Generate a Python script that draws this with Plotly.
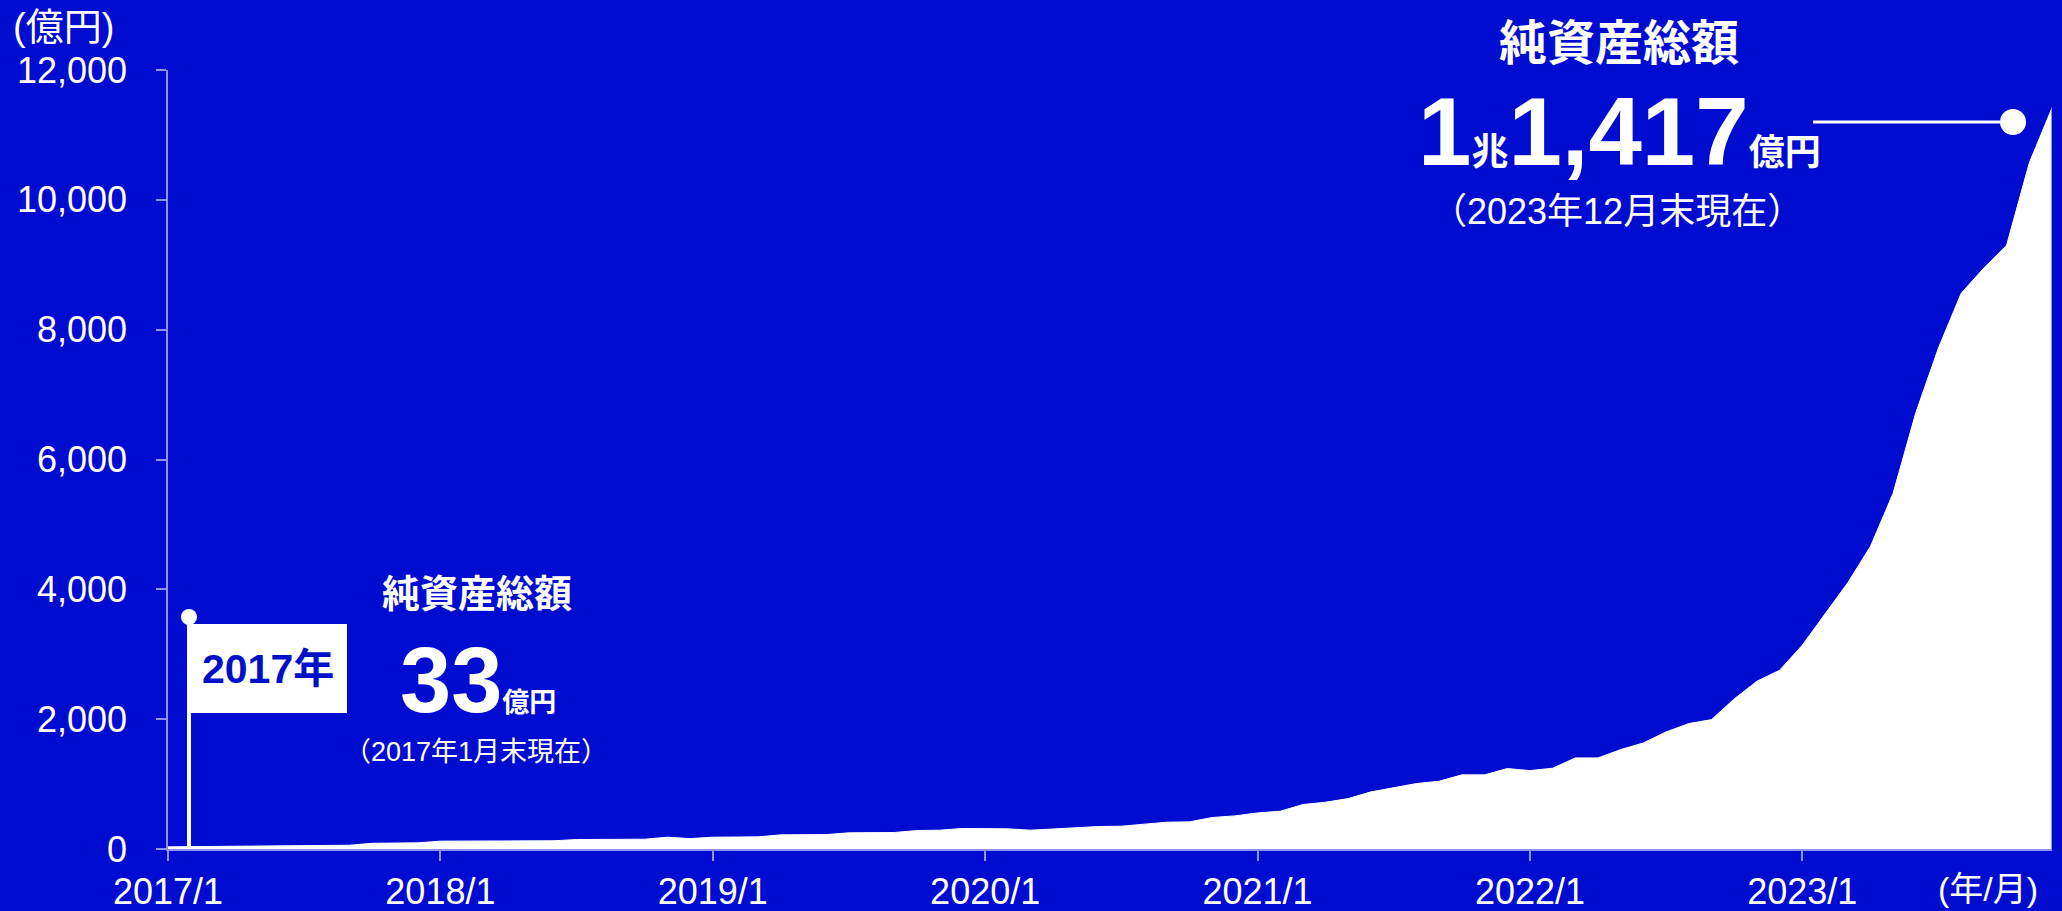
import plotly.graph_objects as go

# ---- data (億円, month-end net assets) ----
years = list(range(2017, 2024))
months = [f"{y}/{m}" for y in years for m in range(1, 13)]

nav_2017 = [33, 35, 37, 40, 42, 45, 48, 52, 58, 88, 92, 95]
nav_2018 = [121, 123, 124, 125, 126, 127, 146, 148, 150, 151, 182, 160]
nav_2019 = [182, 182, 187, 218, 218, 222, 249, 249, 254, 285, 290, 316]
nav_2020 = [316, 311, 290, 311, 321, 346, 351, 380, 413, 418, 485, 510]
nav_2021 = [556, 582, 685, 721, 777, 880, 942, 1008, 1044, 1142, 1142, 1239]
nav_2022 = [1208, 1244, 1403, 1403, 1532, 1634, 1804, 1932, 1993, 2312, 2584, 2753]
nav_2023 = [3140, 3620, 4100, 4660, 5480, 6720, 7720, 8560, 8950, 9300, 10570, 11417]
nav = nav_2017 + nav_2018 + nav_2019 + nav_2020 + nav_2021 + nav_2022 + nav_2023

x_tick_labels = [f"{y}/1" for y in years]
y_tick_values = [0, 2000, 4000, 6000, 8000, 10000, 12000]
y_tick_labels = ["0", "2,000", "4,000", "6,000", "8,000", "10,000", "12,000"]

# ---- style ----
W, H = 2062, 911
ML, MR, MT, MB = 168, 10, 70, 62
BG = "#000CD0"
LAV = "#8C94EE"
FONT = "Liberation Sans, Arial, Noto Sans CJK JP, sans-serif"
PW, PH = W - ML - MR, H - MT - MB


def px(x):
    return (x - ML) / PW


def py(y):
    return (H - MB - y) / PH


fig = go.Figure()
fig.add_trace(go.Scatter(
    x=months, y=nav, mode="lines", fill="tozeroy",
    fillcolor="white", line=dict(color="white", width=1),
    hoverinfo="skip", showlegend=False,
))

fig.update_layout(
    width=W, height=H,
    margin=dict(l=ML, r=MR, t=MT, b=MB, pad=0, autoexpand=False),
    paper_bgcolor=BG, plot_bgcolor=BG,
    font=dict(family=FONT, color="white"),
    showlegend=False,
    xaxis=dict(
        type="category", range=[0, len(months) - 1],
        tickmode="array", tickvals=x_tick_labels, ticktext=x_tick_labels,
        ticks="outside", ticklen=10, tickwidth=1.5, tickcolor=LAV,
        showline=True, linecolor=LAV, linewidth=2,
        showgrid=False, zeroline=False, automargin=False,
        tickfont=dict(size=36, color="white", family=FONT),
        ticklabelstandoff=0,
        fixedrange=True,
    ),
    yaxis=dict(
        range=[0, 12000],
        tickmode="array", tickvals=y_tick_values, ticktext=y_tick_labels,
        ticks="outside", ticklen=10, tickwidth=1.5, tickcolor=LAV,
        showline=True, linecolor=LAV, linewidth=1.5,
        showgrid=False, zeroline=False, automargin=False,
        tickfont=dict(size=36, color="white", family=FONT),
        ticklabelstandoff=22,
        fixedrange=True,
    ),
)

# right edge outline of the area
fig.add_shape(type="line", xref="x", yref="y",
              x0=months[-1], x1=months[-1], y0=0, y1=nav[-1],
              line=dict(color=LAV, width=2))

# ---- flag (2017) ----
fig.add_shape(type="line", xref="paper", yref="paper",
              x0=px(189), x1=px(189), y0=py(617), y1=py(849),
              line=dict(color="white", width=4))
fig.add_shape(type="circle", xref="paper", yref="paper",
              x0=px(181), x1=px(197), y0=py(609), y1=py(625),
              fillcolor="white", line=dict(color="white", width=0))
fig.add_shape(type="rect", xref="paper", yref="paper",
              x0=px(190), x1=px(347), y0=py(624), y1=py(713),
              fillcolor="white", line=dict(width=0))

# ---- top-right callout ----
fig.add_shape(type="line", xref="paper", yref="paper",
              x0=px(1813), x1=px(2000), y0=py(122), y1=py(122),
              line=dict(color="white", width=3))
fig.add_shape(type="circle", xref="paper", yref="paper",
              x0=px(2000), x1=px(2026), y0=py(109), y1=py(135),
              fillcolor="white", line=dict(color="white", width=0))


def ann(text, x, y, size, color="white", xanchor="center", yanchor="middle"):
    fig.add_annotation(text=text, xref="paper", yref="paper",
                       x=px(x), y=py(y), xanchor=xanchor, yanchor=yanchor,
                       showarrow=False, borderpad=0,
                       font=dict(size=size, color=color, family=FONT))


ann("(億円)", 12, 27, 38, xanchor="left")
ann("(年/月)", 1988, 889, 34)

ann("<b>2017年</b>", 268, 669, 41, color="#0010C8")
ann("<b>純資産総額</b>", 477, 594, 38)
ann("<b>33<span style='font-size:27px'>億円</span></b>", 478, 680, 92)
ann("（2017年1月末現在）", 476, 752, 27)

ann("<b>純資産総額</b>", 1619, 43, 48)
ann("<b>1<span style='font-size:37px'>兆</span>1,417<span style='font-size:36px'>億円</span></b>",
    1619, 131, 96)
ann("（2023年12月末現在）", 1617, 212, 36)

fig.write_html(
    "out.html",
    config={"displayModeBar": False},
    post_script="document.body.style.margin='0';document.body.style.overflow='hidden';"
                "document.body.style.background='" + BG + "';",
)
